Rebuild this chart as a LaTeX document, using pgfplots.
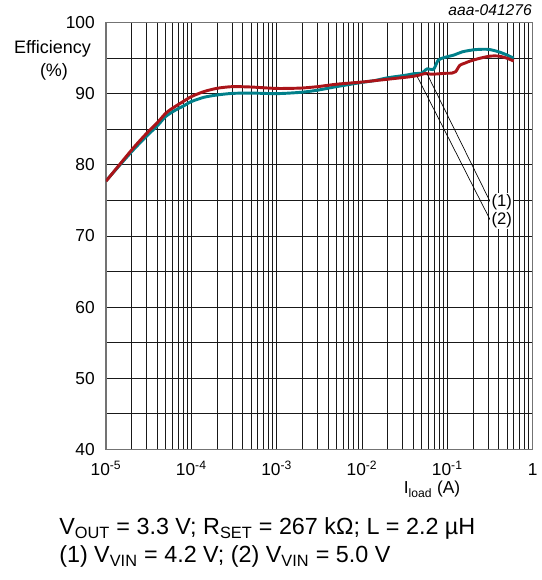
\documentclass[border=0pt]{standalone}
\usepackage{fontspec}
\setmainfont{Liberation Sans}
\usepackage{pgfplots}
\pgfplotsset{compat=1.18}
\definecolor{cteal}{RGB}{0,128,138}
\definecolor{cred}{RGB}{170,20,25}
\begin{document}
\begin{tikzpicture}
\useasboundingbox (-79.5pt,-98pt) rectangle (326.25pt,337pt);
\begin{axis}[
  at={(0pt,0pt)}, anchor=south west,
  scale only axis, width=320pt, height=320pt,
  xmode=log, xmin=1e-5, xmax=1, ymin=40, ymax=100,
  xtick={1e-5,1e-4,1e-3,1e-2,1e-1,1},
  xticklabels={10\textsuperscript{-5},10\textsuperscript{-4},10\textsuperscript{-3},10\textsuperscript{-2},10\textsuperscript{-1},1},
  minor xtick={2e-5,3e-5,4e-5,5e-5,6e-5,7e-5,8e-5,9e-5,
               2e-4,3e-4,4e-4,5e-4,6e-4,7e-4,8e-4,9e-4,
               2e-3,3e-3,4e-3,5e-3,6e-3,7e-3,8e-3,9e-3,
               2e-2,3e-2,4e-2,5e-2,6e-2,7e-2,8e-2,9e-2,
               2e-1,3e-1,4e-1,5e-1,6e-1,7e-1,8e-1,9e-1},
  ytick={40,50,60,70,80,90,100},
  yticklabels={40,50,60,70,80,90,100},
  minor ytick={45,55,65,75,85,95},
  grid=both,
  major grid style={black!90, line width=0.65pt},
  minor grid style={black!90, line width=0.65pt},
  axis line style={black!55, line width=1pt},
  major tick length=0pt, minor tick length=0pt,
  xticklabel style={font=\fontsize{13}{15}\selectfont, anchor=base, yshift=-19.3pt},
  yticklabel style={font=\fontsize{13}{15}\selectfont, anchor=east, inner sep=0pt, xshift=-8.25pt},
  clip=true,
]
\addplot[cteal, line width=2.2pt, smooth, tension=0.45] coordinates {
(1e-5,77.75) (2e-5,81.86) (3e-5,84.06) (4e-5,85.5) (5e-5,86.8) (6.5e-5,87.7) (8e-5,88.25)
(1e-4,88.9) (1.4e-4,89.5) (2e-4,89.83) (3e-4,90.05) (5e-4,90.1) (1e-3,90.02)
(1.9e-3,90.2) (3e-3,90.5) (5e-3,91.0) (1e-2,91.6) (1.4e-2,91.85) (2e-2,92.25)
(3.2e-2,92.6) (4.2e-2,92.85) (5e-2,92.9) (5.8e-2,93.5) (6.9e-2,93.45) (7.8e-2,94.7)
(9.2e-2,95.1) (1.2e-1,95.45) (1.5e-1,95.9) (2.1e-1,96.2) (3e-1,96.25) (4e-1,95.9)
(5e-1,95.45) (6e-1,95.0)
};
\addplot[cred, line width=2.2pt, smooth, tension=0.45] coordinates {
(1e-5,77.7) (2e-5,82.1) (3e-5,84.45) (4e-5,85.94) (5e-5,87.25) (6e-5,87.96) (8e-5,88.9)
(1e-4,89.6) (1.4e-4,90.3) (2e-4,90.77) (3e-4,91.0) (5e-4,90.95) (1e-3,90.75)
(1.9e-3,90.8) (3e-3,91.0) (5e-3,91.34) (1e-2,91.65) (1.4e-2,91.84) (2.4e-2,92.15)
(3.7e-2,92.4) (4.6e-2,92.6) (5.5e-2,92.85) (6.5e-2,92.75) (7.8e-2,92.8) (9.4e-2,92.88)
(1.13e-1,92.9) (1.25e-1,93.1) (1.4e-1,94.0) (1.6e-1,94.3) (1.85e-1,94.6) (2.42e-1,95.0)
(3.2e-1,95.3) (4e-1,95.3) (5e-1,95.0) (6e-1,94.6)
};
\draw[black, line width=0.5pt] (axis cs:0.0575,92.88) -- (axis cs:0.318,74.8);
\draw[black, line width=0.5pt] (axis cs:0.0445,92.4) -- (axis cs:0.318,72.25);
\node[anchor=west, fill=white, inner sep=0.8pt, font=\fontsize{12.5}{14}\selectfont] at (axis cs:0.318,74.8) {(1)};
\node[anchor=west, fill=white, inner sep=0.8pt, font=\fontsize{12.5}{14}\selectfont] at (axis cs:0.318,72.25) {(2)};
\end{axis}
\node[anchor=base, font=\fontsize{13.5}{15}\selectfont] at (-40.1pt,297.2pt) {Efficiency};
\node[anchor=base, font=\fontsize{13.5}{15}\selectfont] at (-39pt,279.3pt) {(\%)};
\node[anchor=base east, font=\fontsize{11.7}{14}\selectfont\itshape, inner sep=0pt] at (319.5pt,325.7pt) {aaa-041276};
\node[anchor=base, font=\fontsize{13}{15}\selectfont] at (244.5pt,-33.5pt) {I\textsubscript{load} (A)};
\node[anchor=base west, inner sep=0pt, font=\fontsize{17.5}{20}\selectfont] at (-35.25pt,-64.2pt) {V\textsubscript{OUT} = 3.3 V; R\textsubscript{SET} = 267 kΩ; L = 2.2 µH};
\node[anchor=base west, inner sep=0pt, font=\fontsize{17.5}{20}\selectfont] at (-35.25pt,-85.2pt) {(1) V\textsubscript{VIN} = 4.2 V; (2) V\textsubscript{VIN} = 5.0 V};
\end{tikzpicture}
\end{document}
